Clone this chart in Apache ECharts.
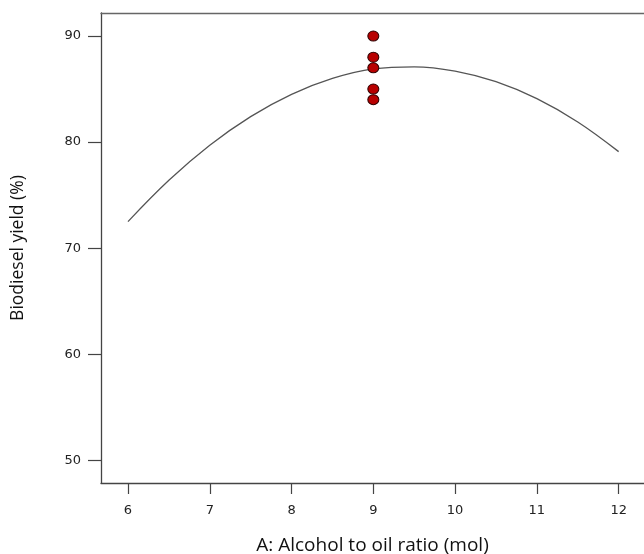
<!DOCTYPE html>
<html>
<head>
<meta charset="utf-8">
<script src="https://cdn.jsdelivr.net/npm/echarts@6/dist/echarts.min.js"></script>
<style>
  html, body { margin: 0; padding: 0; background: #fff; }
  #chart { width: 644px; height: 554px; }
</style>
</head>
<body>
<div id="chart"></div>
<script>
// Model prediction curve: alcohol-to-oil ratio vs predicted biodiesel yield
const ratioCurve = [6, 6.5, 7, 7.5, 8, 8.5, 9, 9.5, 10, 10.5, 11, 11.5, 12];
const yieldCurve = [72.5, 76.4, 79.7, 82.4, 84.5, 86.0, 86.9, 87.1, 86.7, 85.7, 84.1, 81.9, 79.1];

// Experimental runs at the centre point
const ratioRuns = [9, 9, 9, 9, 9];
const yieldRuns = [90, 88, 87, 85, 84];

// Tick labels
const xTicks = [6, 7, 8, 9, 10, 11, 12];
const yTicks = [50, 60, 70, 80, 90];

const axisColor = '#444';
const labelColor = '#222';

const chart = echarts.init(document.getElementById('chart'), null, { renderer: 'canvas' });

chart.setOption({
  animation: false,
  backgroundColor: '#fff',
  grid: { left: 101, right: 0, top: 13, height: 470, outerBoundsMode: 'none', containLabel: false },
  xAxis: [{
    type: 'value',
    min: 5.67,
    max: 12.31,
    name: 'A: Alcohol to oil ratio (mol)',
    nameLocation: 'middle',
    nameGap: 53,
    nameTextStyle: { fontFamily: 'Open Sans', fontSize: 19, color: '#111' },
    splitLine: { show: false },
    axisLine: { show: true, onZero: false, lineStyle: { color: axisColor, width: 1.3 } },
    axisTick: { show: true, length: 11, customValues: xTicks, lineStyle: { color: axisColor, width: 1.2 } },
    axisLabel: { customValues: xTicks, margin: 21, fontFamily: 'DejaVu Sans', fontSize: 13, color: labelColor }
  }, {
    type: 'value',
    position: 'top',
    min: 5.67,
    max: 12.31,
    splitLine: { show: false },
    axisLine: { show: true, onZero: false, lineStyle: { color: '#666', width: 1.3 } },
    axisTick: { show: false },
    axisLabel: { show: false }
  }],
  yAxis: {
    type: 'value',
    min: 47.86,
    max: 92.17,
    name: 'Biodiesel yield (%)',
    nameLocation: 'middle',
    nameGap: 74,
    nameTextStyle: { fontFamily: 'Open Sans', fontSize: 17.5, color: '#111' },
    splitLine: { show: false },
    axisLine: { show: true, onZero: false, lineStyle: { color: axisColor, width: 1.3 } },
    axisTick: { show: true, length: 13, customValues: yTicks, lineStyle: { color: axisColor, width: 1.2 } },
    axisLabel: { customValues: yTicks, margin: 20, fontFamily: 'DejaVu Sans', fontSize: 13, color: labelColor }
  },
  series: [{
    type: 'line',
    data: ratioCurve.map((x, i) => [x, yieldCurve[i]]),
    smooth: 0.4,
    showSymbol: false,
    lineStyle: { color: '#555', width: 1.3 },
    z: 2
  }, {
    type: 'scatter',
    data: ratioRuns.map((x, i) => [x, yieldRuns[i]]),
    symbol: 'circle',
    symbolSize: [11, 10],
    itemStyle: { color: '#b80000', borderColor: '#300000', borderWidth: 1, opacity: 1 },
    z: 3
  }]
});
</script>
</body>
</html>
